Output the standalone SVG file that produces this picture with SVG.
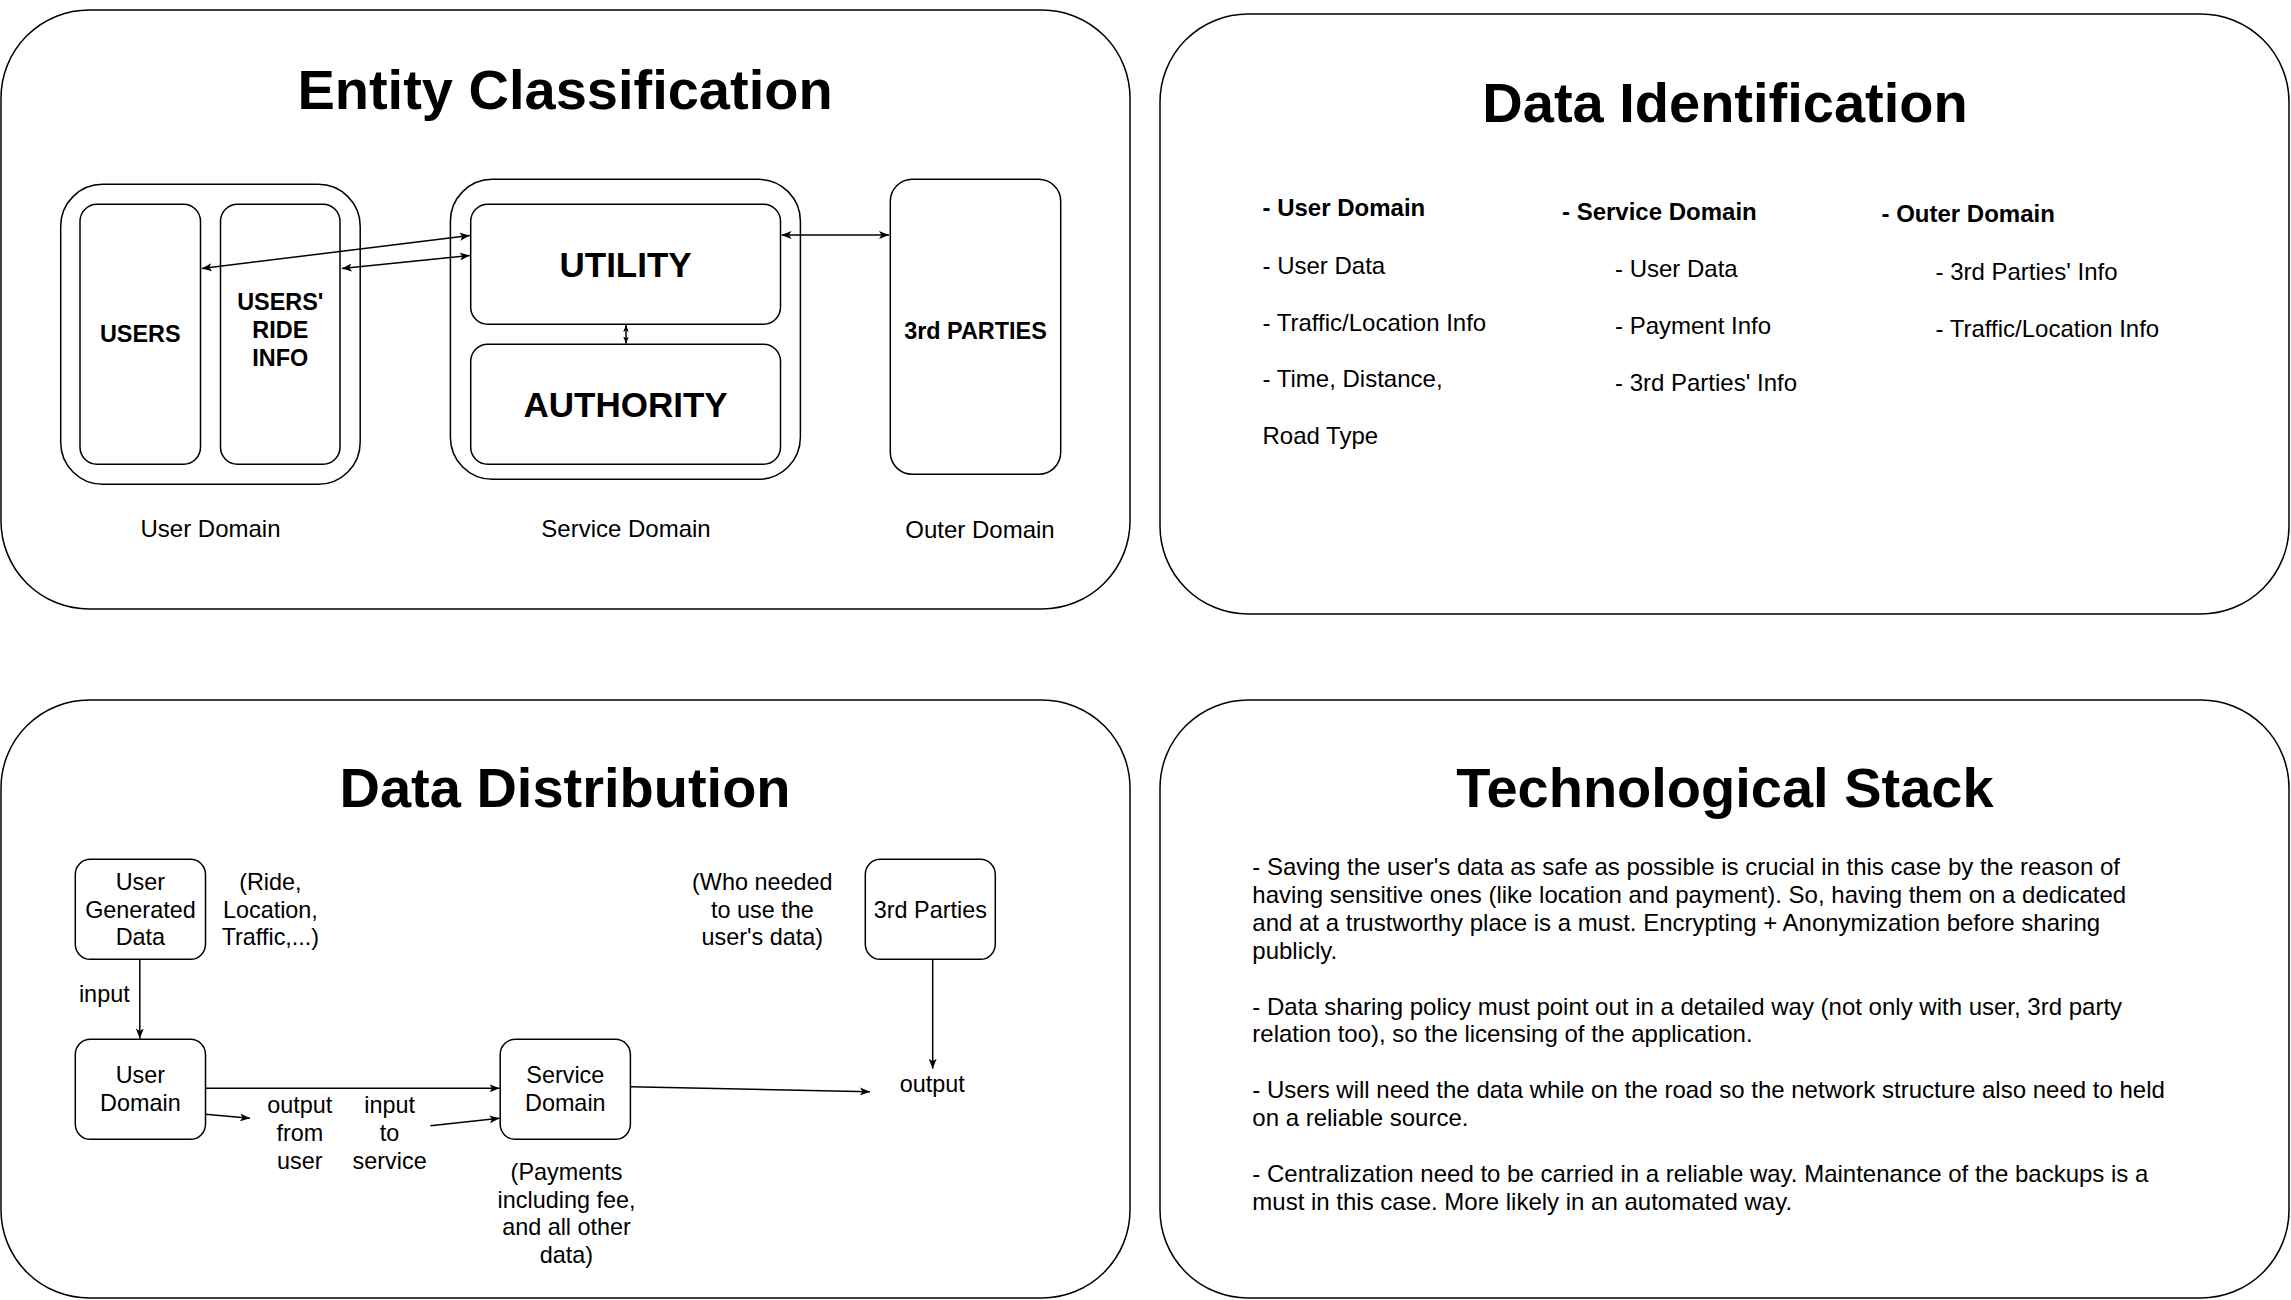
<svg xmlns="http://www.w3.org/2000/svg" width="2291" height="1300" viewBox="0 0 2291 1300">
<style>
.bg{fill:#fff}
.panel{fill:#fff;stroke:#000;stroke-width:1.5}
.box{fill:#fff;stroke:#000;stroke-width:1.5}
.edge{fill:none;stroke:#000;stroke-width:1.5}
text{font-family:"Liberation Sans",Arial,Helvetica,sans-serif;fill:#000}
.title{font-size:56px;font-weight:bold;text-anchor:middle}
.big{font-size:35px;font-weight:bold;text-anchor:middle}
.bl{font-size:23.4px;font-weight:bold;text-anchor:middle}
.lbl{font-size:24px;text-anchor:middle}
.n{font-size:24px}
.nb{font-size:24px;font-weight:bold}
.c{font-size:23.4px;text-anchor:middle}
.p{font-size:24px}
</style>
<defs>
<marker id="ah" viewBox="0 0 10 8" refX="10" refY="4" markerWidth="10" markerHeight="8" markerUnits="userSpaceOnUse" orient="auto-start-reverse">
<path d="M0,0 L10,4 L0,8 L2.5,4 z" fill="#000"/>
</marker>
<marker id="ahs" viewBox="0 0 10 8" refX="10" refY="4" markerWidth="7" markerHeight="6" markerUnits="userSpaceOnUse" orient="auto-start-reverse">
<path d="M0,0 L10,4 L0,8 L2.5,4 z" fill="#000"/>
</marker>
</defs>
<rect class="bg" x="0" y="0" width="2291" height="1300"/>

<!-- Panel 1: Entity Classification -->
<g id="panel-entity">
<rect class="panel" x="1" y="10" width="1129" height="599" rx="88"/>
<text class="title" x="565" y="108.5">Entity Classification</text>
</g>
<g id="user-domain-group">
<rect class="box" x="60.7" y="184.3" width="299.5" height="300" rx="42"/>
<text class="lbl" x="210.5" y="537">User Domain</text>
</g>
<g id="users">
<rect class="box" x="80" y="204.3" width="120.5" height="260" rx="17"/>
<text class="bl" x="140.2" y="342.3">USERS</text>
</g>
<g id="users-ride-info">
<rect class="box" x="220.5" y="204.3" width="119.5" height="260" rx="17"/>
<text class="bl" x="280.3" y="309.5">USERS'</text>
<text class="bl" x="280.3" y="337.5">RIDE</text>
<text class="bl" x="280.3" y="365.5">INFO</text>
</g>
<g id="service-domain-group">
<rect class="box" x="450.4" y="179.3" width="350" height="300" rx="42"/>
<text class="lbl" x="626" y="537">Service Domain</text>
</g>
<g id="utility">
<rect class="box" x="470.7" y="204.3" width="309.8" height="120" rx="17"/>
<text class="big" x="625.6" y="276.7">UTILITY</text>
</g>
<g id="authority">
<rect class="box" x="470.7" y="344.3" width="309.8" height="120" rx="17"/>
<text class="big" x="625.6" y="416.7">AUTHORITY</text>
</g>
<g id="third-parties">
<rect class="box" x="890.3" y="179.3" width="170.4" height="295" rx="22"/>
<text class="bl" x="975.5" y="339">3rd PARTIES</text>
<text class="lbl" x="980" y="537.7">Outer Domain</text>
</g>

<!-- Panel 2: Data Identification -->
<g id="panel-data-identification">
<rect class="panel" x="1160" y="14" width="1129" height="600" rx="88"/>
<text class="title" x="1725" y="122">Data Identification</text>
<text class="nb" x="1262.5" y="216">- User Domain</text>
<text class="n" x="1262.5" y="274">- User Data</text>
<text class="n" x="1262.5" y="330.7">- Traffic/Location Info</text>
<text class="n" x="1262.5" y="387.3">- Time, Distance,</text>
<text class="n" x="1262.5" y="444">Road Type</text>
<text class="nb" x="1562" y="220">- Service Domain</text>
<text class="n" x="1615" y="277.3">- User Data</text>
<text class="n" x="1615" y="334">- Payment Info</text>
<text class="n" x="1615" y="390.7">- 3rd Parties' Info</text>
<text class="nb" x="1881.5" y="222.3">- Outer Domain</text>
<text class="n" x="1935.5" y="280">- 3rd Parties' Info</text>
<text class="n" x="1935.5" y="336.7">- Traffic/Location Info</text>
</g>

<!-- Panel 3: Data Distribution -->
<g id="panel-data-distribution">
<rect class="panel" x="1" y="700" width="1129" height="598" rx="88"/>
<text class="title" x="565" y="807">Data Distribution</text>
</g>
<g id="user-generated-data">
<rect class="box" x="75.3" y="859.3" width="130.2" height="100" rx="15"/>
<text class="c" x="140.4" y="890">User</text>
<text class="c" x="140.4" y="917.5">Generated</text>
<text class="c" x="140.4" y="945">Data</text>
</g>
<g id="ride-note">
<text class="c" x="270.4" y="890">(Ride,</text>
<text class="c" x="270.4" y="917.5">Location,</text>
<text class="c" x="270.4" y="945">Traffic,...)</text>
</g>
<g id="dd-user-domain">
<rect class="box" x="75.3" y="1039.3" width="130.2" height="100" rx="15"/>
<text class="c" x="140.4" y="1083.3">User</text>
<text class="c" x="140.4" y="1110.8">Domain</text>
</g>
<g id="dd-service-domain">
<rect class="box" x="500.2" y="1039.3" width="130.2" height="100" rx="15"/>
<text class="c" x="565.3" y="1083.3">Service</text>
<text class="c" x="565.3" y="1110.8">Domain</text>
</g>
<g id="payments-note">
<text class="c" x="566.5" y="1180">(Payments</text>
<text class="c" x="566.5" y="1207.5">including fee,</text>
<text class="c" x="566.5" y="1235">and all other</text>
<text class="c" x="566.5" y="1262.5">data)</text>
</g>
<g id="dd-third-parties">
<rect class="box" x="865.3" y="859.3" width="130" height="100" rx="15"/>
<text class="c" x="930.3" y="917.7">3rd Parties</text>
</g>
<g id="who-note">
<text class="c" x="762.3" y="890">(Who needed</text>
<text class="c" x="762.3" y="917.5">to use the</text>
<text class="c" x="762.3" y="945">user's data)</text>
</g>
<g id="output-node">
<text class="c" x="932.3" y="1092">output</text>
</g>
<g id="output-from-user">
<text class="c" x="299.8" y="1113.3">output</text>
<text class="c" x="299.8" y="1141">from</text>
<text class="c" x="299.8" y="1168.5">user</text>
</g>
<g id="input-to-service">
<text class="c" x="389.6" y="1113.3">input</text>
<text class="c" x="389.6" y="1141">to</text>
<text class="c" x="389.6" y="1168.5">service</text>
</g>

<!-- Panel 4: Technological Stack -->
<g id="panel-tech-stack">
<rect class="panel" x="1160" y="700" width="1129" height="598" rx="88"/>
<text class="title" x="1725" y="807">Technological Stack</text>
<text class="p" x="1252.3" y="875">- Saving the user's data as safe as possible is crucial in this case by the reason of</text>
<text class="p" x="1252.3" y="902.9">having sensitive ones (like location and payment). So, having them on a dedicated</text>
<text class="p" x="1252.3" y="930.8">and at a trustworthy place is a must. Encrypting + Anonymization before sharing</text>
<text class="p" x="1252.3" y="958.7">publicly.</text>
<text class="p" x="1252.3" y="1014.5">- Data sharing policy must point out in a detailed way (not only with user, 3rd party</text>
<text class="p" x="1252.3" y="1042.4">relation too), so the licensing of the application.</text>
<text class="p" x="1252.3" y="1098.2">- Users will need the data while on the road so the network structure also need to held</text>
<text class="p" x="1252.3" y="1126.1">on a reliable source.</text>
<text class="p" x="1252.3" y="1181.9">- Centralization need to be carried in a reliable way. Maintenance of the backups is a</text>
<text class="p" x="1252.3" y="1209.8">must in this case. More likely in an automated way.</text>
</g>

<!-- Connectors -->
<g id="connectors">
<line class="edge" x1="201.8" y1="268.5" x2="469.8" y2="235.5" marker-start="url(#ah)" marker-end="url(#ah)"/>
<line class="edge" x1="341.8" y1="268.5" x2="469.8" y2="255.5" marker-start="url(#ah)" marker-end="url(#ah)"/>
<line class="edge" x1="781.5" y1="235" x2="889" y2="235" marker-start="url(#ah)" marker-end="url(#ah)"/>
<line class="edge" x1="626" y1="325" x2="626" y2="343.6" marker-start="url(#ahs)" marker-end="url(#ahs)"/>
<line class="edge" x1="139.8" y1="959.3" x2="139.8" y2="1038.5" marker-end="url(#ah)"/>
<text class="c" x="104.3" y="1001.7">input</text>
<line class="edge" x1="205.5" y1="1088.3" x2="499.5" y2="1088.3" marker-end="url(#ah)"/>
<line class="edge" x1="205.5" y1="1114.3" x2="250" y2="1118.3" marker-end="url(#ah)"/>
<line class="edge" x1="430.4" y1="1125.7" x2="499.5" y2="1118.3" marker-end="url(#ah)"/>
<line class="edge" x1="630.4" y1="1086.7" x2="870" y2="1091.7" marker-end="url(#ah)"/>
<line class="edge" x1="932.7" y1="959.3" x2="932.7" y2="1068.7" marker-end="url(#ah)"/>
</g>
</svg>
